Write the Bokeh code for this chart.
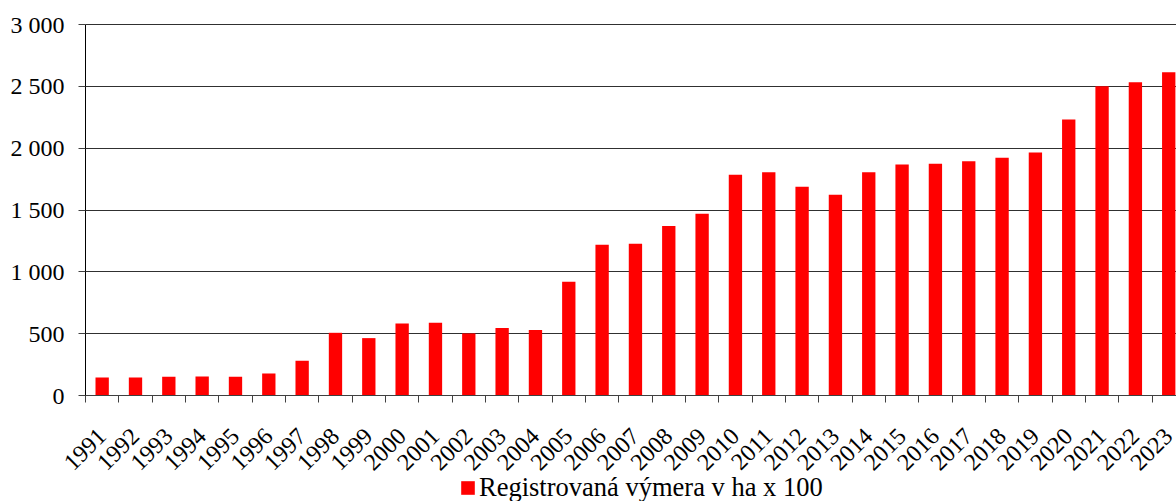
from bokeh.plotting import figure
from bokeh.models import ColumnDataSource, Range1d, FixedTicker, Legend, LegendItem, Grid
from bokeh.embed import file_html
from bokeh.resources import INLINE
import math

years = list(range(1991, 2024))
values = [146, 146, 151, 154, 151, 178, 281, 507, 464, 583,
          588, 502, 545, 529, 920, 1219, 1228, 1370, 1470, 1786,
          1805, 1689, 1624, 1805, 1867, 1875, 1894, 1923, 1964, 2231,
          2501, 2533, 2614]
year_labels = [str(y) for y in years]
y_ticks = [0, 500, 1000, 1500, 2000, 2500, 3000]
y_tick_labels = ["0", "500", "1 000", "1 500", "2 000", "2 500", "3 000"]
series_name = "Registrovaná výmera v ha x 100"

FONT = "Liberation Serif"

# ---- layout (pixels) ----
W, H = 1176, 501
AX_LEFT_PX = 85      # x pixel of the value axis
TOP_PX = 24          # y pixel of the 3000 line
ZERO_PX = 395        # y pixel of the zero line
PX_PER_YEAR = 33.33

Y_MAX = y_ticks[-1]
px_per_unit = (ZERO_PX - TOP_PX) / Y_MAX
x_axis_pos = years[0] - 0.5
x_start = x_axis_pos - AX_LEFT_PX / PX_PER_YEAR
x_end = x_axis_pos + (W - AX_LEFT_PX) / PX_PER_YEAR
y_top = Y_MAX + TOP_PX / px_per_unit
y_bottom = -(H - ZERO_PX) / px_per_unit

src = ColumnDataSource(dict(x=years, top=values))

p = figure(frame_width=W, frame_height=H, output_backend="svg", toolbar_location=None,
           x_range=Range1d(x_start, x_end), y_range=Range1d(y_bottom, y_top),
           min_border_left=0, min_border_right=0, min_border_top=0, min_border_bottom=0)
p.outline_line_color = None
p.background_fill_color = "white"
p.border_fill_color = "white"

r = p.vbar(x="x", top="top", bottom=0, width=0.4, source=src, fill_color="#ff0000", line_color=None)

# x axis, drawn at the zero line
p.xaxis.fixed_location = 0
p.xaxis.bounds = (x_axis_pos, x_end)
p.xaxis.ticker = FixedTicker(ticks=years, minor_ticks=[y - 0.5 for y in years] + [years[-1] + 0.5])
p.xaxis.major_label_overrides = {y: l for y, l in zip(years, year_labels)}
p.xaxis.major_label_orientation = math.pi / 4
p.xaxis.major_tick_out = 0
p.xaxis.major_tick_in = 0
p.xaxis.minor_tick_out = 7
p.xaxis.minor_tick_in = 0
p.xaxis.minor_tick_line_color = "#404040"
p.xaxis.axis_line_color = "#404040"
p.xaxis.major_label_text_font = FONT
p.xaxis.major_label_text_font_size = "24px"
p.xaxis.major_label_text_color = "black"
p.xaxis.major_label_standoff = 30

# y axis, drawn at the left edge of the first category
p.yaxis.fixed_location = x_axis_pos
p.yaxis.bounds = (0, Y_MAX)
p.yaxis.ticker = FixedTicker(ticks=y_ticks)
p.yaxis.major_label_overrides = {t: l for t, l in zip(y_ticks, y_tick_labels)}
p.yaxis.major_tick_out = 7
p.yaxis.major_tick_in = 0
p.yaxis.minor_tick_out = 0
p.yaxis.minor_tick_in = 0
p.yaxis.axis_line_color = "black"
p.yaxis.major_tick_line_color = "#404040"
p.yaxis.major_label_text_font = FONT
p.yaxis.major_label_text_font_size = "24px"
p.yaxis.major_label_text_color = "black"
p.yaxis.major_label_standoff = 14

p.xgrid.grid_line_color = None
p.ygrid.grid_line_color = "#303030"
p.ygrid.grid_line_width = 1
p.ygrid.bounds = (0, Y_MAX)
if "cross_bounds" in Grid.properties():
    p.ygrid.cross_bounds = (x_axis_pos, x_end)
else:
    p.ygrid.grid_line_color = None
    p.segment(x0=x_axis_pos, x1=x_end, y0=y_ticks, y1=y_ticks, line_color="#303030", line_width=1)

legend = Legend(items=[LegendItem(label=series_name, renderers=[r])],
                orientation="horizontal", location=(459, -2),
                border_line_color=None, background_fill_alpha=0,
                label_text_font=FONT, label_text_font_size="26.5px",
                label_text_color="black",
                glyph_width=17, glyph_height=17, label_standoff=3,
                padding=0, margin=0, spacing=0)
p.add_layout(legend, "center")

open("out.html", "w").write(file_html(p, INLINE))
